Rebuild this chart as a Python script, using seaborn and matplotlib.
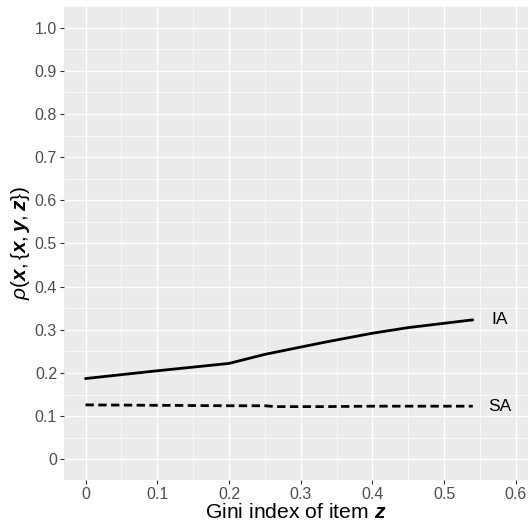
import matplotlib
matplotlib.use("Agg")
import matplotlib.pyplot as plt
import seaborn as sns
import pandas as pd
import numpy as np
from matplotlib.ticker import MultipleLocator

ia_x = [0, 0.1, 0.2, 0.25, 0.333, 0.4, 0.45, 0.5, 0.54]
ia_y = [0.187, 0.205, 0.222, 0.243, 0.271, 0.292, 0.305, 0.315, 0.323]
sa_x = [0, 0.1, 0.2, 0.25, 0.265, 0.333, 0.4, 0.5, 0.54]
sa_y = [0.126, 0.125, 0.124, 0.124, 0.122, 0.122, 0.123, 0.123, 0.123]
labels = ["IA", "SA"]
x_ticks = [0, 0.1, 0.2, 0.3, 0.4, 0.5, 0.6]
x_tick_labels = ["0", "0.1", "0.2", "0.3", "0.4", "0.5", "0.6"]
y_ticks = [0, 0.1, 0.2, 0.3, 0.4, 0.5, 0.6, 0.7, 0.8, 0.9, 1.0]
y_tick_labels = ["0", "0.1", "0.2", "0.3", "0.4", "0.5", "0.6", "0.7", "0.8", "0.9", "1.0"]

df = pd.concat([
    pd.DataFrame({"gini": ia_x, "rho": ia_y, "method": "IA"}),
    pd.DataFrame({"gini": sa_x, "rho": sa_y, "method": "SA"}),
])

sns.set_theme(style="darkgrid")
plt.rcParams["font.family"] = ["Liberation Sans", "DejaVu Sans"]
plt.rcParams["mathtext.fontset"] = "custom"
plt.rcParams["mathtext.rm"] = "Liberation Sans"
plt.rcParams["mathtext.it"] = "Liberation Sans:italic"
plt.rcParams["mathtext.bf"] = "Liberation Sans:bold:italic"

fig = plt.figure(figsize=(5.30, 5.29), dpi=100)
ax = fig.add_axes([64/530, 1-480/529, (528-64)/530, (480-6)/529])
ax.set_facecolor("#EBEBEB")

sns.lineplot(data=df, x="gini", y="rho", style="method",
             dashes={"IA": "", "SA": (3, 1.6)}, color="black",
             linewidth=2, legend=False, ax=ax)

ax.text(0.578, ia_y[-1], labels[0], ha="center", va="center", fontsize=12.5, color="black")
ax.text(0.578, sa_y[-1], labels[1], ha="center", va="center", fontsize=12.5, color="black")

ax.set_xlim(-0.03, 0.617)
ax.set_ylim(-0.048, 1.05)
ax.set_xticks(x_ticks)
ax.set_xticklabels(x_tick_labels)
ax.set_yticks(y_ticks)
ax.set_yticklabels(y_tick_labels)
ax.xaxis.set_minor_locator(MultipleLocator(0.05))
ax.yaxis.set_minor_locator(MultipleLocator(0.05))
ax.grid(which="major", color="white", linewidth=1.0)
ax.grid(which="minor", color="white", linewidth=0.5)
ax.tick_params(which="major", length=3, width=0.8, color="#333333",
               labelcolor="#4D4D4D", labelsize=11.5, pad=2, bottom=True, left=True)
ax.tick_params(which="minor", length=0)
for s in ax.spines.values():
    s.set_visible(False)

ax.set_xlabel(r"Gini index of item $\mathbf{z}$", fontsize=15.2, color="black", labelpad=1)
ax.set_ylabel(r"$\rho(\mathbf{x},\{\mathbf{x},\mathbf{y},\mathbf{z}\})$", fontsize=15,
              color="black", labelpad=2)

fig.savefig("out.png", dpi=100)
